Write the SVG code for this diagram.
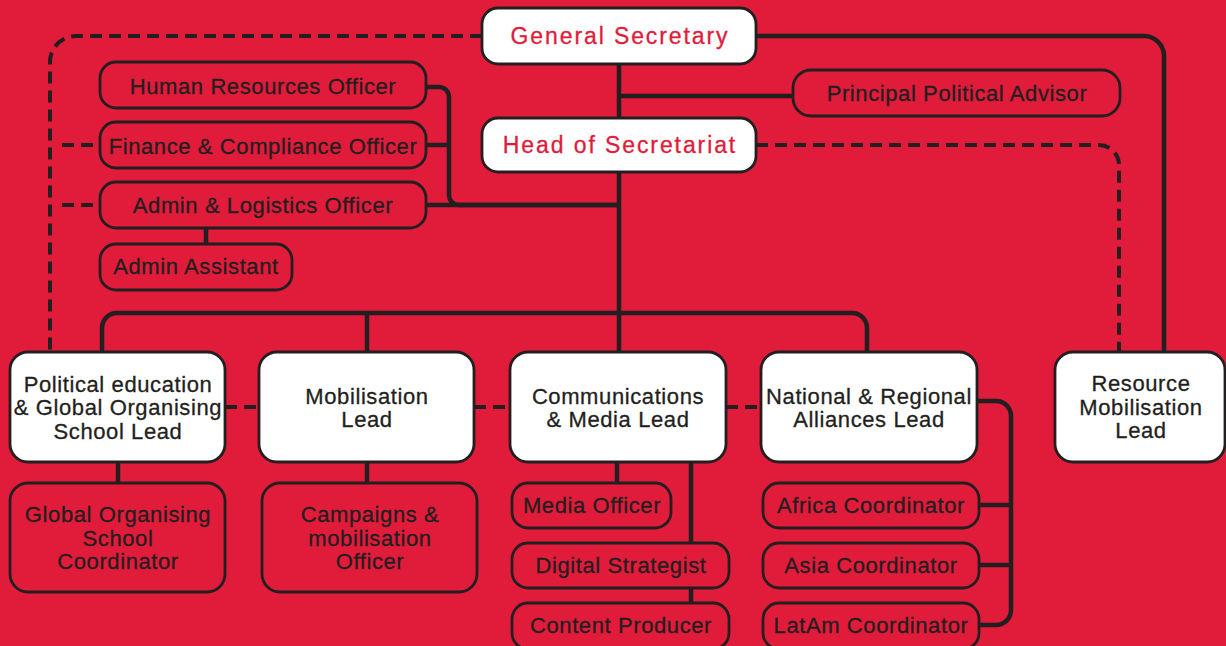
<svg xmlns="http://www.w3.org/2000/svg" width="1226" height="646" viewBox="0 0 1226 646">
<style>
.bg{fill:#E11B3A}
.box{fill:#E11B3A;stroke:#231F20;stroke-width:2.8}
.wbox{fill:#FFFFFF;stroke:#231F20;stroke-width:2.8}
text{font-family:"Liberation Sans",Arial,sans-serif;font-size:22px;letter-spacing:0.6px;fill:#231F20;stroke:#231F20;stroke-width:0.3;text-anchor:middle}
text.tr{fill:#E11B3A;stroke:#E11B3A;font-size:23px;letter-spacing:1.9px}
.c{fill:none;stroke:#231F20;stroke-width:4.5}
.d{fill:none;stroke:#231F20;stroke-width:4;stroke-dasharray:12 7}
</style>
<rect class="bg" x="0" y="0" width="1226" height="646"/>
<g id="connectors">
<path class="c" d="M619 64V352"/>
<path class="c" d="M619 96H793"/>
<path class="c" d="M756 36H1144A20 20 0 0 1 1164 56V352"/>
<path class="d" d="M756 145H1099A20 20 0 0 1 1119 165V352"/>
<path class="d" d="M482 36H76A26 26 0 0 0 50 62V352"/>
<path class="c" d="M426 87H439A10 10 0 0 1 449 97V195A10 10 0 0 0 459 205H619"/>
<path class="c" d="M426 145H449"/>
<path class="c" d="M426 205H619"/>
<path class="c" d="M206 228V244"/>
<path class="d" d="M62 145H100"/>
<path class="d" d="M62 205H100"/>
<path class="c" d="M102 352V328A15 15 0 0 1 117 313H852A15 15 0 0 1 867 328V352"/>
<path class="c" d="M367 313V352"/>
<path class="d" d="M225 407H259"/>
<path class="d" d="M474 407H510"/>
<path class="d" d="M726 407H761"/>
<path class="c" d="M118 462V483"/>
<path class="c" d="M367 462V483"/>
<path class="c" d="M617 462V483"/>
<path class="c" d="M691 462V603"/>
<path class="c" d="M977 401H996A15 15 0 0 1 1011 416V610A15 15 0 0 1 996 625H979"/>
<path class="c" d="M979 505H1011"/>
<path class="c" d="M979 565H1011"/>
</g>
<g id="general-secretary"><rect class="wbox" x="482" y="8" width="274" height="56" rx="16"/><text class="tr" x="620" y="44">General Secretary</text></g>
<g id="head-of-secretariat"><rect class="wbox" x="482" y="118" width="274" height="54" rx="16"/><text class="tr" x="620" y="153">Head of Secretariat</text></g>
<g id="principal-political-advisor"><rect class="box" x="793" y="70" width="327" height="46" rx="18"/><text x="957" y="101">Principal Political Advisor</text></g>
<g id="hr-officer"><rect class="box" x="100" y="62" width="326" height="46" rx="16"/><text x="263" y="94">Human Resources Officer</text></g>
<g id="finance-officer"><rect class="box" x="100" y="122" width="326" height="46" rx="16"/><text x="263" y="154">Finance &amp; Compliance Officer</text></g>
<g id="admin-logistics-officer"><rect class="box" x="100" y="182" width="326" height="46" rx="16"/><text x="263" y="213">Admin &amp; Logistics Officer</text></g>
<g id="admin-assistant"><rect class="box" x="100" y="244" width="192" height="46" rx="16"/><text x="196" y="274">Admin Assistant</text></g>
<g id="political-education-lead"><rect class="wbox" x="10" y="352" width="215" height="110" rx="18"/><text x="118" y="392">Political education</text><text x="118" y="415">&amp; Global Organising</text><text x="118" y="439">School Lead</text></g>
<g id="mobilisation-lead"><rect class="wbox" x="259" y="352" width="215" height="110" rx="18"/><text x="367" y="404">Mobilisation</text><text x="367" y="427">Lead</text></g>
<g id="communications-lead"><rect class="wbox" x="510" y="352" width="216" height="110" rx="18"/><text x="618" y="404">Communications</text><text x="618" y="427">&amp; Media Lead</text></g>
<g id="alliances-lead"><rect class="wbox" x="761" y="352" width="216" height="110" rx="18"/><text x="869" y="404">National &amp; Regional</text><text x="869" y="427">Alliances Lead</text></g>
<g id="resource-mobilisation-lead"><rect class="wbox" x="1055" y="352" width="170" height="110" rx="18"/><text x="1141" y="391">Resource</text><text x="1141" y="415">Mobilisation</text><text x="1141" y="438">Lead</text></g>
<g id="gos-coordinator"><rect class="box" x="10" y="483" width="215" height="109" rx="18"/><text x="118" y="522">Global Organising</text><text x="118" y="546">School</text><text x="118" y="569">Coordinator</text></g>
<g id="campaigns-officer"><rect class="box" x="262" y="483" width="215" height="109" rx="18"/><text x="370" y="522">Campaigns &amp;</text><text x="370" y="546">mobilisation</text><text x="370" y="569">Officer</text></g>
<g id="media-officer"><rect class="box" x="512" y="483" width="159" height="45" rx="16"/><text x="592" y="513">Media Officer</text></g>
<g id="digital-strategist"><rect class="box" x="512" y="543" width="217" height="45" rx="16"/><text x="621" y="573">Digital Strategist</text></g>
<g id="content-producer"><rect class="box" x="512" y="603" width="217" height="46" rx="16"/><text x="621" y="633">Content Producer</text></g>
<g id="africa-coordinator"><rect class="box" x="763" y="483" width="216" height="45" rx="16"/><text x="871" y="513">Africa Coordinator</text></g>
<g id="asia-coordinator"><rect class="box" x="763" y="543" width="216" height="45" rx="16"/><text x="871" y="573">Asia Coordinator</text></g>
<g id="latam-coordinator"><rect class="box" x="763" y="603" width="216" height="46" rx="16"/><text x="871" y="633">LatAm Coordinator</text></g>
</svg>
